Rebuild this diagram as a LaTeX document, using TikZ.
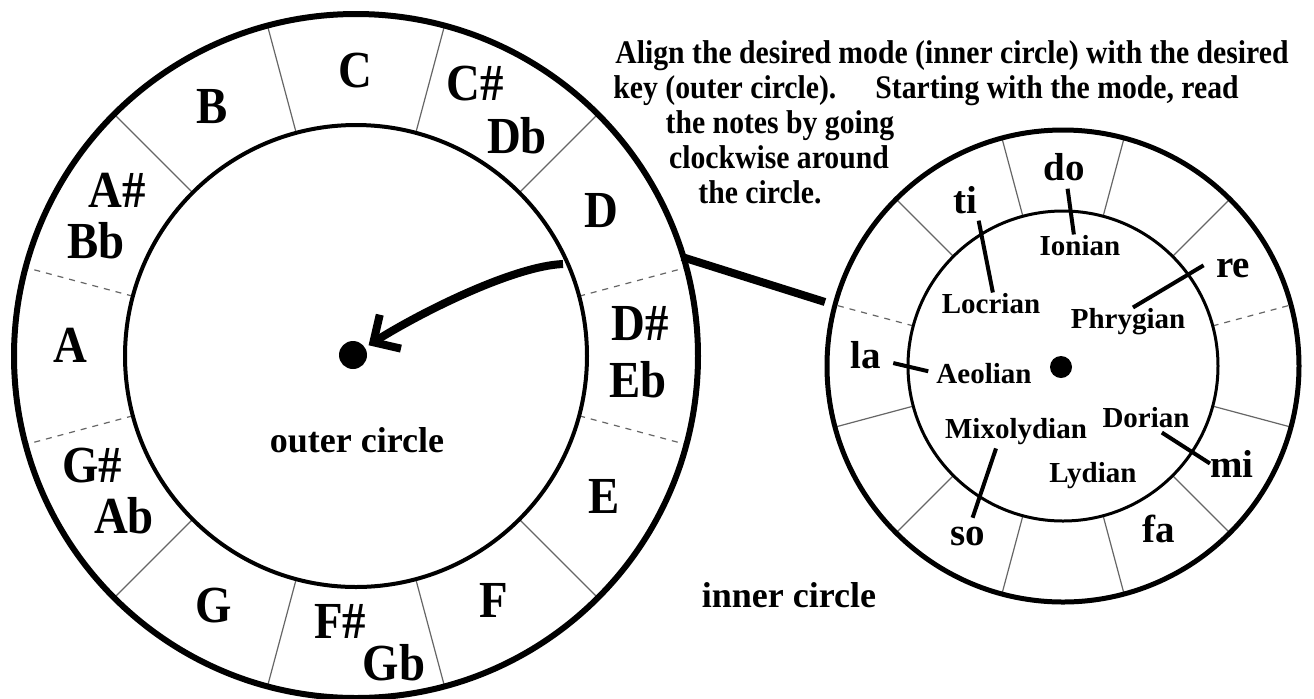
\documentclass[tikz,border=0pt]{standalone}
\usepackage{fontspec}
\setmainfont{Liberation Serif}
\newfontfamily\narrowserif[FakeStretch=0.9]{Liberation Serif}
\usetikzlibrary{calc,arrows.meta}
\begin{document}
\begin{tikzpicture}[x=0.5pt,y=-0.5pt,
  note/.style={font=\narrowserif\bfseries\fontsize{26}{30}\selectfont, inner sep=0pt, anchor=base},
  solfa/.style={font=\bfseries\fontsize{19.5}{23}\selectfont, inner sep=0pt, anchor=base},
  mode/.style={font=\bfseries\fontsize{14.5}{17}\selectfont, inner sep=0pt, anchor=base},
  instr/.style={font=\narrowserif\bfseries\fontsize{16.5}{19}\selectfont, inner sep=0pt, anchor=base},
  caption/.style={font=\bfseries\fontsize{18}{22}\selectfont, inner sep=0pt, anchor=base},
  divider/.style={draw=black!60, line width=0.6pt},
  tie/.style={line width=2pt},
  dot/.style={circle, fill=black, inner sep=0pt}]
\useasboundingbox[fill=white] (0,0) rectangle (1314,698);

\coordinate (Lc) at (356,356);
\coordinate (Rc) at (1063,366);

\foreach \a/\s in {15/dashed,45/solid,75/solid,105/solid,135/solid,165/dashed,195/dashed,225/solid,255/solid,285/solid,315/solid,345/dashed}
  \draw[divider,\s] ($(Lc)+(-\a:231)$) -- ($(Lc)+(-\a:342)$);
\foreach \a/\s in {15/dashed,45/solid,75/solid,105/solid,135/solid,165/dashed,195/solid,225/solid,255/solid,285/solid,315/solid,345/solid}
  \draw[divider,\s] ($(Rc)+(-\a:155)$) -- ($(Rc)+(-\a:236)$);

\draw[line width=3pt] (Lc) circle[radius=342];
\draw[line width=2pt] (Lc) circle[radius=231];
\draw[line width=2.5pt] (Rc) circle[radius=236];
\draw[line width=1.5pt] (Rc) circle[radius=155];

\node[note] (nC) at (355,87) {C};
\node[note] (nCs) at (475,100) {C\#};
\node[note] (nDb) at (517,153) {Db};
\node[note] (nD) at (601,227) {D};
\node[note] (nDs) at (640,340) {D\#};
\node[note] (nEb) at (638,397) {Eb};
\node[note] (nE) at (604,513) {E};
\node[note] (nF) at (494,617) {F};
\node[note] (nFs) at (340,638) {F\#};
\node[note] (nGb) at (394,680) {Gb};
\node[note] (nG) at (214,622) {G};
\node[note] (nGs) at (92,482) {G\#};
\node[note] (nAb) at (124,533) {Ab};
\node[note] (nA) at (70,362) {A};
\node[note] (nAs) at (117,207) {A\#};
\node[note] (nBb) at (96,258) {Bb};
\node[note] (nB) at (212,123) {B};

\node[caption] (outer) at (357,452) {outer circle};
\node[caption] (inner) at (789,607) {inner circle};

\node[instr, anchor=base west] (line1) at (615,63) {Align the desired mode (inner circle) with the desired};
\node[instr, anchor=base west] (line2) at (613,98) {key (outer circle).};
\node[instr, anchor=base west] (line2b) at (875,98) {Starting with the mode, read};
\node[instr] (line3) at (780,133) {the notes by going};
\node[instr] (line4) at (779,168) {clockwise around};
\node[instr] (line5) at (760,203) {the circle.};

\node[dot, minimum size=14pt] (dotL) at (353,355) {};
\node[dot, minimum size=11pt] (dotR) at (1061,367) {};

\coordinate (arrS) at (563,264);
\draw[line width=4pt, -{Straight Barb[length=10pt,width=20pt]}, shorten >=2pt] (arrS) .. controls (515,266) and (425,310) .. (dotL);

\coordinate (linkL) at (682,257);
\coordinate (linkR) at (825,302);
\draw[line width=4pt] (linkL) -- (linkR);

\node[solfa] (sDo) at (1064,180) {do};
\node[solfa] (sTi) at (965,213) {ti};
\node[solfa] (sRe) at (1233,277) {re};
\node[solfa] (sLa) at (866,368) {la};
\node[solfa] (sMi) at (1232,477) {mi};
\node[solfa] (sFa) at (1159,542) {fa};
\node[solfa] (sSo) at (968,545) {so};

\node[mode] (mIonian) at (1080,255) {Ionian};
\node[mode] (mLocrian) at (991,313) {Locrian};
\node[mode] (mPhrygian) at (1128,328) {Phrygian};
\node[mode] (mAeolian) at (984,383) {Aeolian};
\node[mode] (mMixolydian) at (1016,438) {Mixolydian};
\node[mode] (mDorian) at (1146,427) {Dorian};
\node[mode] (mLydian) at (1093,482) {Lydian};

\draw[tie, shorten <=4pt] (sDo.-80) -- (mIonian.120);
\draw[tie, shorten <=3.5pt] (sTi.south east) -- (mLocrian.80);
\draw[tie, shorten <=7pt] (sRe.north west) -- (mPhrygian.70);
\draw[tie, shorten <=6pt, shorten >=4pt] (sLa.-20) -- (mAeolian.west);
\draw[tie, shorten <=2pt, shorten >=4.5pt] (mMixolydian.-144) -- (sSo.80);
\draw[tie, shorten <=4.5pt] (mDorian.-52) -- (sMi.west);
\end{tikzpicture}
\end{document}
